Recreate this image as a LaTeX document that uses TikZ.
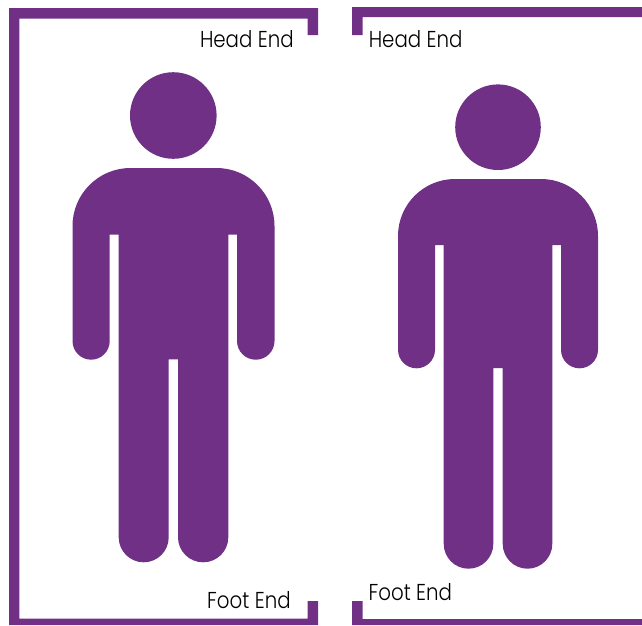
\documentclass[tikz,border=0pt]{standalone}
\usepackage{fontspec}
\setmainfont{Poppins}[UprightFont=* Light,FakeStretch=0.86]
\definecolor{figpurple}{HTML}{6F3085}
\tikzset{
  x=1pt,y=-1pt,
  shape fill/.style={fill=figpurple,draw=none},
  endlabel/.style={anchor=base west,inner sep=0pt,outer sep=0pt,text=black,font=\fontsize{23}{26}\selectfont}
}
\begin{document}
\begin{tikzpicture}
\useasboundingbox (0,0) rectangle (642,625);
% left frame
\fill[shape fill] (318,35) -- (318,8) -- (9,8) -- (9,625) -- (318,625) -- (318,601) -- (307.5,601) -- (307.5,618.5) -- (19.3,618.5) -- (19.3,18.7) -- (307.5,18.7) -- (307.5,35) -- cycle;
% right frame
\fill[shape fill] (642,7) -- (352,7) -- (352,35) -- (362.7,35) -- (362.7,17) -- (642,17) -- cycle;
\fill[shape fill] (642,625) -- (352,625) -- (352,601) -- (362.7,601) -- (362.7,619) -- (642,619) -- cycle;
% left figure
\fill[shape fill] (173.3,115.5) circle[radius=43.3];
\fill[shape fill] (72.5,226) arc[start angle=180,end angle=90,x radius=58,y radius=-58] -- (216.5,168) arc[start angle=90,end angle=0,x radius=58,y radius=-58]
  -- (274.5,341) arc[start angle=0,delta angle=-180,x radius=18.75,y radius=-18.7] -- (237,234.7) -- (228.3,234.7)
  -- (228.3,537.3) arc[start angle=0,delta angle=-180,x radius=25.15,y radius=-25] -- (178,359.3) -- (168.7,359.3)
  -- (168.7,537.3) arc[start angle=0,delta angle=-180,x radius=25,y radius=-25] -- (118.7,234.7) -- (109.7,234.7)
  -- (109.7,341) arc[start angle=0,delta angle=-180,x radius=18.6,y radius=-18.7] -- cycle;
% right figure
\fill[shape fill] (498,127.2) circle[radius=42.8];
\fill[shape fill] (398,236) arc[start angle=180,end angle=90,x radius=57,y radius=-57] -- (541,179) arc[start angle=90,end angle=0,x radius=57,y radius=-57]
  -- (598,349.8) arc[start angle=0,delta angle=-180,x radius=18.5,y radius=-18.5] -- (561,245) -- (552.3,245)
  -- (552.3,543.8) arc[start angle=0,delta angle=-180,x radius=24.8,y radius=-24.9] -- (502.7,368) -- (493.3,368)
  -- (493.3,543.8) arc[start angle=0,delta angle=-180,x radius=24.8,y radius=-24.9] -- (443.7,245) -- (435,245)
  -- (435,349.8) arc[start angle=0,delta angle=-180,x radius=18.5,y radius=-18.5] -- cycle;
% labels
\node[endlabel] (headL) at (200,47) {Head End};
\node[endlabel] (footL) at (207.2,608.4) {Foot End};
\node[endlabel] (headR) at (368.8,47) {Head End};
\node[endlabel] (footR) at (368.6,600.4) {Foot End};
\end{tikzpicture}
\end{document}
